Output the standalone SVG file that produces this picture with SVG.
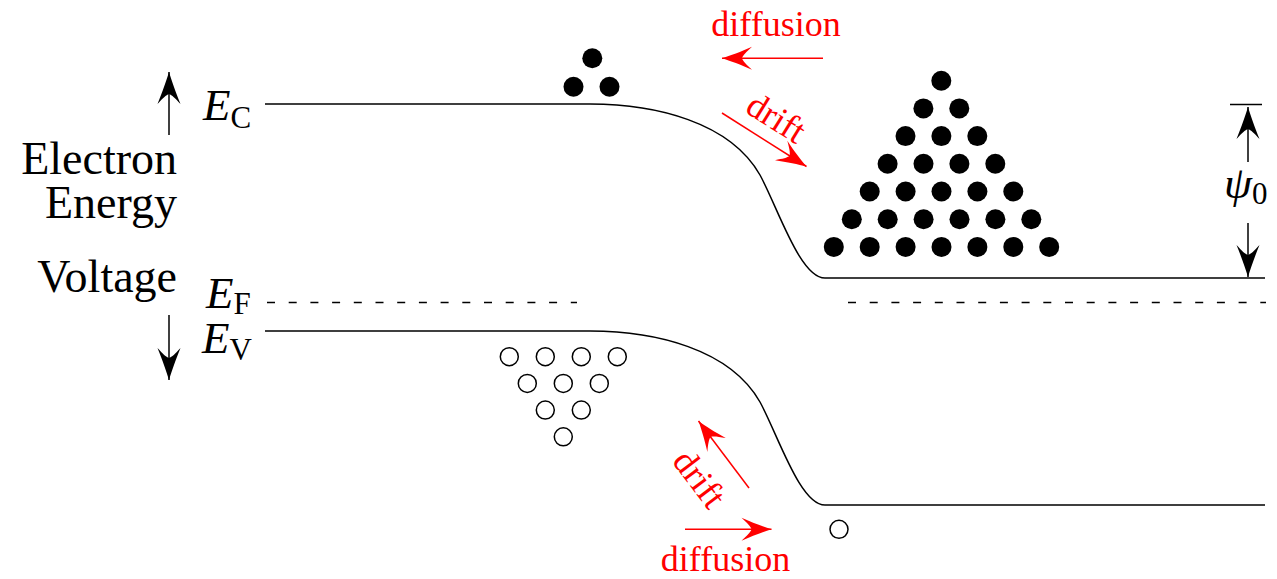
<svg xmlns="http://www.w3.org/2000/svg" width="1277" height="579" viewBox="0 0 1277 579">
<style>
.band{fill:none;stroke:#000;stroke-width:1.5}
.fermi{fill:none;stroke:#000;stroke-width:1.5;stroke-dasharray:8 13.7}
.ax{fill:none;stroke:#000;stroke-width:1.5;marker-end:url(#hb)}
.rd{fill:none;stroke:#f00;stroke-width:1.5;marker-end:url(#hr)}
.e{fill:#000}
.h{fill:#fff;stroke:#000;stroke-width:1.5}
text{font-family:'Liberation Serif',Tinos,'Times New Roman','Nimbus Roman','DejaVu Serif',serif}
.lbl{font-size:46px;fill:#000}
.sym{font-size:45px;font-style:italic;fill:#000}
.sub{font-style:normal;font-size:31px}
.red{font-size:36px;fill:#f00}
</style>
<defs>
<marker id="hb" markerUnits="userSpaceOnUse" viewBox="-34 -13 36 26" markerWidth="36" markerHeight="26" refX="0" refY="0" orient="auto">
<path d="M0,0 C-8,2.5 -20,6.5 -32,11.5 C-26,6 -23,3 -22,0 C-23,-3 -26,-6 -32,-11.5 C-20,-6.5 -8,-2.5 0,0 Z" fill="#000"/>
</marker>
<marker id="hr" markerUnits="userSpaceOnUse" viewBox="-34 -13 36 26" markerWidth="36" markerHeight="26" refX="0" refY="0" orient="auto">
<path d="M0,0 C-8,2.5 -19,6.5 -30,11.5 C-24,6 -21,3 -20,0 C-21,-3 -24,-6 -30,-11.5 C-19,-6.5 -8,-2.5 0,0 Z" fill="#f00"/>
</marker>
</defs>

<g id="conduction-band">
<path class="band" d="M265,104 H590 C655,104 730,122 760,175 C778,208 800,278 825,278 H1265"/>
</g>
<g id="valence-band">
<path class="band" d="M265,331 H590 C655,331 730,349 760,402 C778,435 800,505 825,505 H1265"/>
</g>
<g id="fermi-level">
<path class="fermi" d="M267,302.5 H577"/>
<path class="fermi" d="M848,302.5 H1266"/>
</g>

<g id="axis-label">
<text class="lbl" x="177" y="174" text-anchor="end" font-family="Liberation Serif, serif">Electron</text>
<text class="lbl" x="177" y="218" text-anchor="end" font-family="Liberation Serif, serif">Energy</text>
<text class="lbl" x="177" y="292" text-anchor="end" font-family="Liberation Serif, serif">Voltage</text>
</g>
<g id="label-EC"><text class="sym" x="203" y="120" font-family="Liberation Serif, serif">E<tspan class="sub" dy="8">C</tspan></text></g>
<g id="label-EF"><text class="sym" x="206" y="308" font-family="Liberation Serif, serif">E<tspan class="sub" dy="6">F</tspan></text></g>
<g id="label-EV"><text class="sym" x="202" y="353" font-family="Liberation Serif, serif">E<tspan class="sub" dy="7">V</tspan></text></g>
<g id="label-psi">
<path class="band" d="M1230,104.5 H1262"/>
<text class="sym" x="1224" y="198" font-size="42" font-family="Liberation Serif, serif">ψ<tspan class="sub" font-size="29" dy="6">0</tspan></text>
</g>

<g id="electrons-p">
<circle class="e" cx="592.3" cy="58.3" r="10"/>
<circle class="e" cx="573.5" cy="86.7" r="10"/>
<circle class="e" cx="609.5" cy="86.7" r="10"/>
</g>
<g id="electrons-n">
<circle class="e" cx="941.3" cy="80.7" r="10"/>
<circle class="e" cx="923.4" cy="108.4" r="10"/><circle class="e" cx="959.3" cy="108.4" r="10"/>
<circle class="e" cx="905.5" cy="136.1" r="10"/><circle class="e" cx="941.4" cy="136.1" r="10"/><circle class="e" cx="977.3" cy="136.1" r="10"/>
<circle class="e" cx="887.6" cy="163.8" r="10"/><circle class="e" cx="923.5" cy="163.8" r="10"/><circle class="e" cx="959.4" cy="163.8" r="10"/><circle class="e" cx="995.3" cy="163.8" r="10"/>
<circle class="e" cx="869.7" cy="191.5" r="10"/><circle class="e" cx="905.6" cy="191.5" r="10"/><circle class="e" cx="941.5" cy="191.5" r="10"/><circle class="e" cx="977.4" cy="191.5" r="10"/><circle class="e" cx="1013.3" cy="191.5" r="10"/>
<circle class="e" cx="851.8" cy="219.2" r="10"/><circle class="e" cx="887.7" cy="219.2" r="10"/><circle class="e" cx="923.6" cy="219.2" r="10"/><circle class="e" cx="959.5" cy="219.2" r="10"/><circle class="e" cx="995.4" cy="219.2" r="10"/><circle class="e" cx="1031.3" cy="219.2" r="10"/>
<circle class="e" cx="833.8" cy="246.9" r="10"/><circle class="e" cx="869.7" cy="246.9" r="10"/><circle class="e" cx="905.6" cy="246.9" r="10"/><circle class="e" cx="941.5" cy="246.9" r="10"/><circle class="e" cx="977.4" cy="246.9" r="10"/><circle class="e" cx="1013.3" cy="246.9" r="10"/><circle class="e" cx="1049.2" cy="246.9" r="10"/>
</g>
<g id="holes-p">
<circle class="h" cx="509.3" cy="356.7" r="9"/><circle class="h" cx="545.3" cy="356.7" r="9"/><circle class="h" cx="581.3" cy="356.7" r="9"/><circle class="h" cx="617.3" cy="356.7" r="9"/>
<circle class="h" cx="527.3" cy="383.4" r="9"/><circle class="h" cx="563.3" cy="383.4" r="9"/><circle class="h" cx="599.3" cy="383.4" r="9"/>
<circle class="h" cx="545.3" cy="410.1" r="9"/><circle class="h" cx="581.3" cy="410.1" r="9"/>
<circle class="h" cx="563.3" cy="436.8" r="9"/>
</g>
<g id="holes-n">
<circle class="h" cx="839" cy="529.3" r="9"/>
</g>

<g id="labels-red">
<text class="red" x="776" y="36" text-anchor="middle" font-family="Liberation Serif, serif">diffusion</text>
<text class="red" text-anchor="middle" transform="translate(770,128) rotate(32)" font-family="Liberation Serif, serif">drift</text>
<text class="red" text-anchor="middle" transform="translate(690,486) rotate(53)" font-family="Liberation Serif, serif">drift</text>
<text class="red" x="725.5" y="571" text-anchor="middle" font-family="Liberation Serif, serif">diffusion</text>
</g>

<g id="connectors">
<line class="ax" x1="169" y1="135" x2="169" y2="72"/>
<line class="ax" x1="169" y1="315" x2="169" y2="380"/>
<line class="ax" x1="1248" y1="162" x2="1248" y2="107"/>
<line class="ax" x1="1248" y1="223" x2="1248" y2="277"/>
<line class="rd" x1="823" y1="58.3" x2="722" y2="58.3"/>
<line class="rd" x1="722" y1="113" x2="806.5" y2="166.5"/>
<line class="rd" x1="749" y1="488" x2="698.5" y2="421"/>
<line class="rd" x1="685" y1="529.3" x2="771.5" y2="529.3"/>
</g>
</svg>
